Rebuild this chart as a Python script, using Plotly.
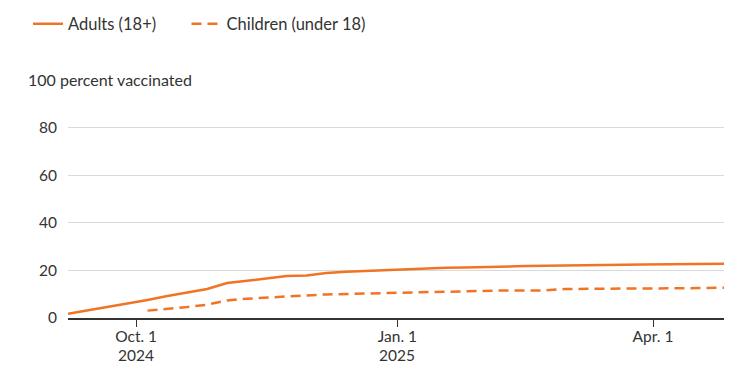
import plotly.graph_objects as go
import pandas as pd

dates = pd.date_range("2024-09-07", "2025-04-26", freq="7D")

adults = [1.8, 3.2, 4.6, 6.2, 7.6, 9.2, 10.8, 12.2, 14.7, 15.6, 16.5, 17.6, 17.9,
          18.9, 19.4, 19.8, 20.0, 20.4, 21.0, 21.1, 21.2, 21.5, 21.7, 21.8, 21.9,
          22.1, 22.2, 22.3, 22.4, 22.5, 22.6, 22.7, 22.7, 22.8]

children = [None, None, None, None, 3.1, 3.7, 4.6, 5.6, 7.4, 8.1, 8.6, 9.3, 9.5,
            9.9, 10.1, 10.4, 10.6, 10.8, 11.0, 11.1, 11.2, 11.6, 11.6, 11.6, 11.6,
            12.2, 12.2, 12.2, 12.2, 12.3, 12.4, 12.5, 12.6, 12.7]

x_tickvals = ["2024-10-01", "2025-01-01", "2025-04-01"]
x_ticktext = ["Oct. 1", "Jan. 1", "Apr. 1"]
year_vals = ["2024-10-01", "2025-01-01"]
year_text = ["2024", "2025"]
y_tickvals = [0, 20, 40, 60, 80, 100]
y_ticktext = ["0", "20", "40", "60", "80", ""]

ORANGE = "#EF7424"
TEXT = "#333333"
FONT = "Lato"

W, H = 730, 365

fig = go.Figure()
fig.add_trace(go.Scatter(x=dates, y=adults, mode="lines",
                         name="Adults (18+)" + "\u00a0" * 6,
                         line=dict(color=ORANGE, width=2.5)))
fig.add_trace(go.Scatter(x=dates, y=children, mode="lines", name="Children (under 18)",
                         line=dict(color=ORANGE, width=2.5, dash="10px,6px")))

annotations = [dict(text="100 percent vaccinated", xref="paper", yref="y",
                    x=0, y=100, xanchor="left", yanchor="middle", xshift=-43,
                    showarrow=False, bgcolor="white", borderpad=2,
                    font=dict(size=16, color=TEXT))]
for xv, tx in zip(year_vals, year_text):
    annotations.append(dict(text=tx, xref="x", yref="paper", x=xv, y=0,
                            xanchor="center", yanchor="middle", yshift=-37,
                            showarrow=False, borderpad=0,
                            font=dict(size=15.5, color=TEXT)))

fig.update_layout(
    width=W, height=H,
    margin=dict(l=60, r=14, t=71, b=55, autoexpand=False),
    paper_bgcolor="white", plot_bgcolor="white",
    font=dict(family=FONT, size=16, color=TEXT),
    showlegend=True,
    legend=dict(orientation="h", xref="container", yref="container",
                x=20 / W, xanchor="left", y=1 - 16 / H, yanchor="middle",
                font=dict(size=16.5, color=TEXT), itemwidth=30,
                traceorder="normal"),
    xaxis=dict(range=["2024-09-07", "2025-04-26"], tickvals=x_tickvals,
               ticktext=x_ticktext, showgrid=False, showline=True,
               linecolor="#333333", linewidth=1.5, ticks="outside", ticklen=7,
               tickcolor="#333333", tickwidth=1.3, tickfont=dict(size=15.5, color=TEXT),
               ticklabelstandoff=-3, zeroline=False, automargin=False),
    yaxis=dict(range=[0, 100.4], tickvals=y_tickvals, ticktext=y_ticktext,
               showgrid=True, gridcolor="#d9d9d9", gridwidth=1, zeroline=False,
               showline=False, ticks="", tickfont=dict(size=15.5, color=TEXT),
               ticklabelstandoff=10, automargin=False),
    annotations=annotations,
)

fig.write_html("out.html")
